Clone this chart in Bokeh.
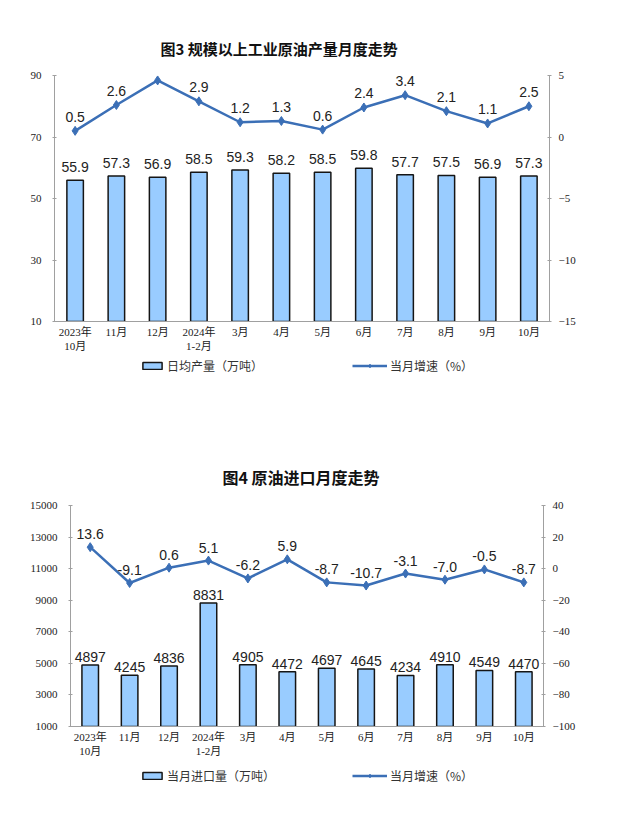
from bokeh.plotting import figure
from bokeh.models import Range1d, LinearAxis, Legend, LegendItem, FixedTicker
from bokeh.embed import file_html
from bokeh.resources import INLINE
from bokeh.core.properties import value

months = ["2023年\n10月", "11月", "12月", "2024年\n1-2月", "3月", "4月",
          "5月", "6月", "7月", "8月", "9月", "10月"]

output_daily = [55.9, 57.3, 56.9, 58.5, 59.3, 58.2, 58.5, 59.8, 57.7, 57.5, 56.9, 57.3]
output_growth = [0.5, 2.6, 4.6, 2.9, 1.2, 1.3, 0.6, 2.4, 3.4, 2.1, 1.1, 2.5]

import_volume = [4897, 4245, 4836, 8831, 4905, 4472, 4697, 4645, 4234, 4910, 4549, 4470]
import_growth = [13.6, -9.1, 0.6, 5.1, -6.2, 5.9, -8.7, -10.7, -3.1, -7.0, -0.5, -8.7]

top_left_ticks = [10, 30, 50, 70, 90]
top_right_ticks = [-15, -10, -5, 0, 5]
bot_left_ticks = [1000, 3000, 5000, 7000, 9000, 11000, 13000, 15000]
bot_right_ticks = [-100, -80, -60, -40, -20, 0, 20, 40]

BAR_FILL = "#99CCFF"
BAR_LINE = "#151515"
LINE = "#3B6FB6"
AXIS = "#a0a0a0"
TXT = "#222222"
SERIF = "'Liberation Serif', 'Noto Sans CJK SC'"
CJK = "'Noto Sans CJK SC'"


def style_axis(ax, standoff):
    ax.axis_line_color = AXIS
    ax.major_tick_line_color = AXIS
    ax.major_tick_in = 2
    ax.major_tick_out = 2
    ax.minor_tick_line_color = None
    ax.major_label_standoff = standoff
    ax.major_label_text_font = SERIF
    ax.major_label_text_font_size = "11px"
    ax.major_label_text_color = TXT


def make_chart(title, bar_vals, bar_labels, line_vals, line_labels,
               yl, lticks, yr, rticks, height, bl, br, bt, bb,
               title_size, title_offset, title_standoff, bar_w, bar_off, line_off):
    p = figure(x_range=months, y_range=Range1d(*yl), width=612, height=height,
               min_border_left=bl, min_border_right=br, min_border_top=bt,
               min_border_bottom=bb, output_backend="svg", toolbar_location=None)
    p.extra_y_ranges = {"y2": Range1d(*yr)}
    p.title.text = title
    p.title.align = "left"
    p.title.text_font = CJK
    p.title.text_font_size = title_size
    p.title.text_font_style = "bold"
    p.title.text_color = "#111111"
    p.title.offset = title_offset
    p.title.standoff = title_standoff
    p.xgrid.visible = False
    p.ygrid.visible = False
    p.outline_line_color = None

    style_axis(p.yaxis[0], 11)
    p.yaxis[0].ticker = FixedTicker(ticks=lticks)
    right = LinearAxis(y_range_name="y2", ticker=FixedTicker(ticks=rticks))
    style_axis(right, 7)
    p.add_layout(right, "right")

    xa = p.xaxis[0]
    style_axis(xa, 4)
    xa.major_tick_line_color = None
    xa.major_tick_in = 0
    xa.major_tick_out = 0

    p.vbar(x=months, top=bar_vals, bottom=yl[0], width=bar_w,
           fill_color=BAR_FILL, line_color=BAR_LINE, line_width=1.5)
    p.line(x=months, y=line_vals, y_range_name="y2",
           line_color=LINE, line_width=2.5)
    p.scatter(x=months, y=line_vals, y_range_name="y2", marker="diamond",
              size=9, fill_color=LINE, line_color=LINE)
    p.text(x=months, y=bar_vals, text=bar_labels, text_align="center",
           text_baseline="bottom", y_offset=bar_off, text_font=value("Liberation Sans"),
           text_font_size="14px", text_color=TXT)
    p.text(x=months, y=line_vals, text=line_labels, y_range_name="y2",
           text_align="center", text_baseline="bottom", y_offset=line_off,
           text_font=value("Liberation Sans"), text_font_size="14px", text_color=TXT)
    return p


def make_legend_strip(bar_name, line_name, height, ypos):
    s = figure(width=612, height=height, x_range=Range1d(0, 612), y_range=Range1d(0, height),
               min_border=0, output_backend="svg", toolbar_location=None,
               x_axis_location=None, y_axis_location=None)
    s.grid.visible = False
    s.outline_line_color = None
    # legend-only renderers with no drawable coordinates
    nan = [float("nan")]
    rb = s.vbar(x=nan, top=nan, bottom=nan, width=1, fill_color=BAR_FILL,
                line_color=BAR_LINE, line_width=1.5)
    rl = s.line(x=nan, y=nan, line_color=LINE, line_width=2.5)
    rp = s.scatter(x=nan, y=nan, marker="diamond", size=6, fill_color=LINE, line_color=LINE)
    common = dict(orientation="horizontal", border_line_color=None,
                  background_fill_alpha=0, glyph_height=9, label_height=14,
                  label_text_font=CJK, label_text_font_size="12px",
                  label_text_color="#333333", padding=0, margin=0, label_standoff=3)
    s.add_layout(Legend(items=[LegendItem(label=bar_name, renderers=[rb])],
                        location=(140, ypos), glyph_width=24, **common), "center")
    s.add_layout(Legend(items=[LegendItem(label=line_name, renderers=[rl, rp])],
                        location=(352, ypos), glyph_width=35, **common), "center")
    return s


p1 = make_chart("图3  规模以上工业原油产量月度走势", output_daily,
                [f"{v:.1f}" for v in output_daily], output_growth,
                [f"{v:.1f}" for v in output_growth],
                (10, 90), top_left_ticks, (-15, 5), top_right_ticks,
                356, 54, 63, 75, 35, "15px", 106, 34, 0.4, -8, -9)
l1 = make_legend_strip("日均产量（万吨）", "当月增速（%）", 20, 2)

p2 = make_chart("图4  原油进口月度走势", import_volume,
                [str(v) for v in import_volume], import_growth,
                [f"{v:.1f}" for v in import_growth],
                (1000, 15000), bot_left_ticks, (-100, 40), bot_right_ticks,
                385, 70, 69, 129, 35, "16px", 152, 33, 0.42, -3, -8)
l2 = make_legend_strip("当月进口量（万吨）", "当月增速（%）", 30, 7)

open("out.html", "w").write(file_html([p1, l1, p2, l2], INLINE))
